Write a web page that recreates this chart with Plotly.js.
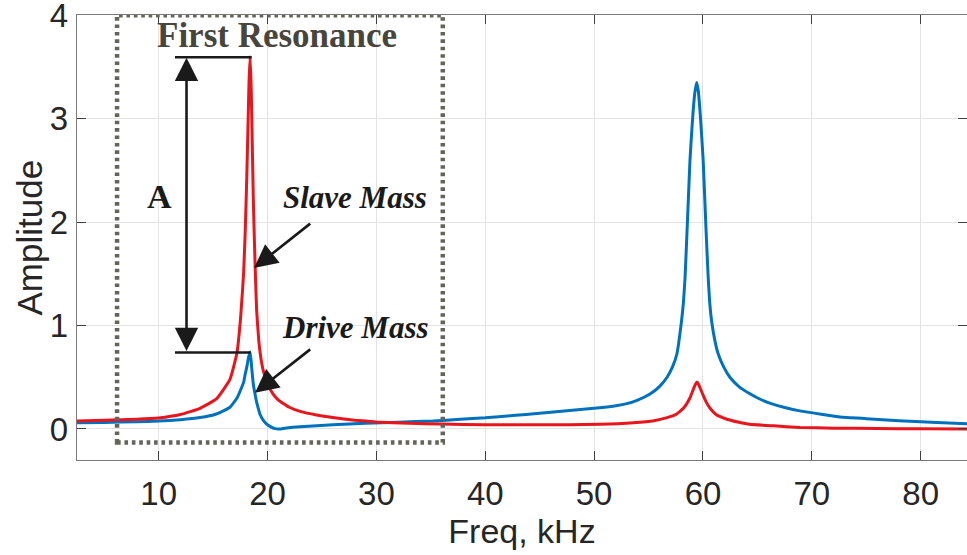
<!DOCTYPE html>
<html>
<head>
<meta charset="utf-8">
<script src="https://cdn.plot.ly/plotly-3.0.1.min.js"></script>
<style>html,body{margin:0;padding:0;background:#fff;}#chart{width:967px;height:555px;}</style>
</head>
<body>
<div id="chart"></div>
<script>
// Drive mass (blue) response
const freqDrive = [2.5, 5, 8, 10, 12, 13.8, 15.3, 16.55, 17.2, 17.5, 17.8, 17.95, 18.1, 18.2, 18.3, 18.4,
  18.5, 18.6, 18.7, 18.85, 19.0, 19.15, 19.3, 19.6, 19.9, 20.3, 20.7, 21.1, 21.6, 22.3, 23, 26, 29, 32,
  35.2, 37.7, 40, 42.5, 45, 48, 50.5, 52, 53, 54, 55.1, 56, 56.7, 57.2, 57.6, 58.03, 58.2, 58.35, 58.55,
  58.8, 58.95, 59.1, 59.25, 59.42, 59.57, 59.72, 59.87, 60.02, 60.27, 60.48, 60.62, 60.79, 61.1, 61.4,
  61.9, 62.47, 63.3, 64.31, 65.3, 66.42, 67.6, 68.9, 71, 72.6, 75, 78, 80, 82, 84.3];
const ampDrive = [0.06, 0.063, 0.07, 0.077, 0.09, 0.11, 0.145, 0.21, 0.30, 0.37, 0.45, 0.53, 0.6, 0.66, 0.71, 0.745,
  0.65, 0.53, 0.43, 0.34, 0.26, 0.2, 0.145, 0.085, 0.05, 0.02, 0.003, 0.0, 0.008, 0.016, 0.022, 0.04, 0.055, 0.066,
  0.077, 0.094, 0.108, 0.13, 0.152, 0.18, 0.205, 0.225, 0.245, 0.28, 0.336, 0.41, 0.50, 0.6, 0.725, 1.045, 1.22, 1.46, 1.95,
  2.59, 2.85, 3.08, 3.25, 3.35, 3.27, 3.08, 2.85, 2.59, 1.95, 1.46, 1.22, 1.045, 0.85, 0.725,
  0.6, 0.5, 0.41, 0.34, 0.285, 0.24, 0.205, 0.175, 0.14, 0.116, 0.1, 0.08, 0.07, 0.06, 0.051];

// Slave mass (red) response
const freqSlave = [2.5, 5, 8, 10, 12, 13.8, 15.3, 16.55, 17.2, 17.5, 17.6, 17.8, 17.95, 18.1, 18.2, 18.3, 18.4,
  18.5, 18.6, 18.7, 18.8, 18.9, 19.0, 19.2, 19.4, 19.6, 20.0, 20.5, 21.0, 22.0, 23.0, 24.5, 26.0, 28.0, 30.0,
  33.0, 36.0, 40.0, 45.0, 50.5, 53.6, 55.5, 56.7, 57.5, 58.2, 58.8, 59.1, 59.3, 59.45, 59.6, 59.8, 60.0,
  60.3, 60.65, 61.2, 62.2, 63.3, 64.3, 66.5, 68.9, 72, 76, 80, 84.3];
const ampSlave = [0.077, 0.085, 0.095, 0.107, 0.14, 0.2, 0.29, 0.48, 0.74, 1.04, 1.18, 1.5, 1.9, 2.45, 2.9, 3.35, 3.6,
  3.3, 2.75, 2.2, 1.8, 1.45, 1.15, 0.85, 0.68, 0.57, 0.44, 0.34, 0.28, 0.21, 0.17, 0.135, 0.11, 0.085, 0.068,
  0.055, 0.047, 0.042, 0.04, 0.045, 0.06, 0.08, 0.11, 0.14, 0.2, 0.3, 0.38, 0.43, 0.455, 0.43, 0.38, 0.33,
  0.26, 0.2, 0.14, 0.094, 0.065, 0.045, 0.03, 0.015, 0.008, 0.004, 0.002, 0.0];

const xTicks = [10, 20, 30, 40, 50, 60, 70, 80];
const yTicks = [0, 1, 2, 3, 4];

const sans = 'Liberation Sans, Arial, Helvetica, sans-serif';
const serif = 'Liberation Serif, Times New Roman, serif';
const ink = '#1a1a1a';
const labelColor = '#262626';

const traces = [
  {x: freqDrive, y: ampDrive, type: 'scatter', mode: 'lines', name: 'Drive Mass',
   line: {color: '#0072BD', width: 3, shape: 'spline', smoothing: 0.4}},
  {x: freqSlave, y: ampSlave, type: 'scatter', mode: 'lines', name: 'Slave Mass',
   line: {color: '#e8161c', width: 3, shape: 'spline', smoothing: 0.4}}
];

function arrow(xTip, yTip, xTail, yTail, both) {
  const a = {x: xTip, y: yTip, ax: xTail, ay: yTail, xref: 'x', yref: 'y', axref: 'x', ayref: 'y',
    text: '', showarrow: true, arrowhead: 2, arrowsize: 1.8, arrowwidth: 2.6, arrowcolor: ink, standoff: 0};
  if (both) { a.arrowside = 'end+start'; a.startarrowhead = 2; a.startarrowsize = 1.8; a.startstandoff = 0; }
  return a;
}

const annotations = [
  {x: 20.87, y: 3.8, xref: 'x', yref: 'y', text: 'First Resonance', showarrow: false,
   font: {family: serif, size: 35, color: '#48453d', weight: 'bold'}},
  {x: 10.08, y: 2.25, xref: 'x', yref: 'y', text: 'A', showarrow: false,
   font: {family: serif, size: 34, color: ink, weight: 'bold'}},
  {x: 28.03, y: 2.24, xref: 'x', yref: 'y', text: 'Slave Mass', showarrow: false,
   font: {family: serif, size: 31, color: ink, weight: 'bold', style: 'italic'}},
  {x: 28.08, y: 0.98, xref: 'x', yref: 'y', text: 'Drive Mass', showarrow: false,
   font: {family: serif, size: 31, color: ink, weight: 'bold', style: 'italic'}},
  {x: 0, y: 0.5, xref: 'paper', yref: 'paper', xshift: -48, text: 'Amplitude', textangle: -90,
   showarrow: false, xanchor: 'center', yanchor: 'middle',
   font: {family: sans, size: 35, color: labelColor}},
  arrow(12.56, 3.59, 12.56, 0.739, true),
  arrow(18.76, 1.556, 24.06, 1.997, false),
  arrow(18.85, 0.351, 24.06, 0.781, false)
];

const shapes = [
  {type: 'rect', xref: 'x', yref: 'y', x0: 6.18, x1: 36.1, y0: -0.13, y1: 4.0,
   line: {color: '#64645a', width: 4.5, dash: '3.6px,3.8px'}},
  {type: 'line', xref: 'x', yref: 'y', x0: 11.5, x1: 18.55, y0: 3.595, y1: 3.595,
   line: {color: ink, width: 2.6}},
  {type: 'line', xref: 'x', yref: 'y', x0: 11.5, x1: 18.45, y0: 0.739, y1: 0.739,
   line: {color: ink, width: 2.6}}
];

const layout = {
  width: 967, height: 555,
  margin: {l: 77, r: 0, t: 15, b: 95, pad: 0},
  paper_bgcolor: '#ffffff', plot_bgcolor: '#ffffff',
  showlegend: false,
  xaxis: {
    range: [2.5, 84.25], tickvals: xTicks, ticktext: xTicks.map(String),
    showgrid: true, gridcolor: '#e3e3e3', gridwidth: 1, zeroline: false,
    showline: true, linecolor: '#7a7a7a', linewidth: 1.2, mirror: 'ticks',
    ticks: 'inside', ticklen: 9, tickcolor: '#404040', tickwidth: 1,
    tickfont: {family: sans, size: 33, color: labelColor}, ticklabelstandoff: 4,
    ticklabeloverflow: 'allow',
    title: {text: 'Freq, kHz', font: {family: sans, size: 34, color: labelColor}, standoff: 8}
  },
  yaxis: {
    range: [-0.3, 4.003], tickvals: yTicks, ticktext: yTicks.map(String),
    showgrid: true, gridcolor: '#e3e3e3', gridwidth: 1, zeroline: false,
    showline: true, linecolor: '#7a7a7a', linewidth: 1.2, mirror: 'ticks',
    ticks: 'inside', ticklen: 9, tickcolor: '#404040', tickwidth: 1,
    tickfont: {family: sans, size: 33, color: labelColor}, ticklabelstandoff: 1,
    ticklabeloverflow: 'allow'
  },
  annotations: annotations,
  shapes: shapes
};

Plotly.newPlot('chart', traces, layout, {staticPlot: true, displayModeBar: false});
</script>
</body>
</html>
